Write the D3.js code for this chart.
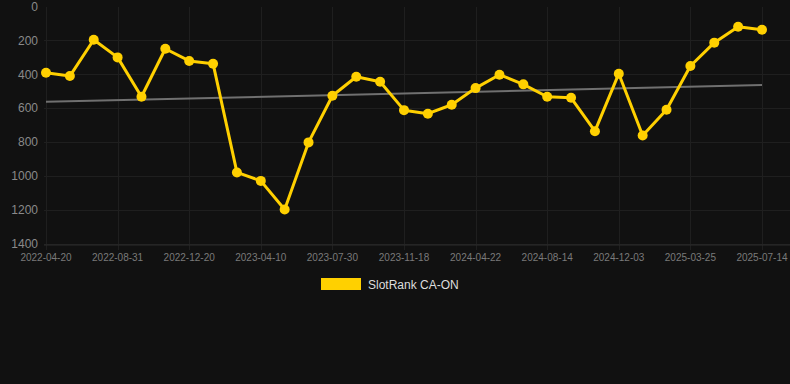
<!DOCTYPE html>
<html>
  <head>
    <script src="https://d3js.org/d3.v7.min.js"></script>
    <style>
      body { margin: 0; background: #111111; }
      .grid line { stroke: #1f1f1f; stroke-width: 1; shape-rendering: crispEdges; }
      .grid path { stroke-width: 0; }
      text { font-family: "Liberation Sans", Arial, sans-serif; }
    </style>
  </head>
  <body>
    <script>
      // categories (only every 3rd label is shown)
      var dates = [
        "2022-04-20", "2022-06-03", "2022-07-17", "2022-08-31", "2022-10-07", "2022-11-13",
        "2022-12-20", "2023-01-26", "2023-03-04", "2023-04-10", "2023-05-17", "2023-06-23",
        "2023-07-30", "2023-09-05", "2023-10-12", "2023-11-18", "2024-01-09", "2024-03-01",
        "2024-04-22", "2024-05-30", "2024-07-07", "2024-08-14", "2024-09-20", "2024-10-27",
        "2024-12-03", "2025-01-09", "2025-02-16", "2025-03-25", "2025-05-01", "2025-06-07",
        "2025-07-14"
      ];
      var ranks = [
        390, 410, 196, 300, 532, 249, 321, 337, 978, 1028, 1197, 801,
        526, 414, 444, 611, 632, 579, 481, 402, 459, 532, 538, 735,
        396, 760, 609, 351, 213, 119, 137
      ];
      // trend line, value at first and last date
      var trend = [562, 463];
      var yTicks = [0, 200, 400, 600, 800, 1000, 1200, 1400];
      var seriesName = "SlotRank CA-ON";

      var W = 790, H = 384;
      var margin = {top: 6.5, right: 28, bottom: 140, left: 46},
          width = W - margin.left - margin.right,
          height = H - margin.top - margin.bottom;

      var svg = d3.select("body").append("svg")
          .attr("width", W)
          .attr("height", H)
          .style("background", "#111111");

      var g = svg.append("g")
          .attr("transform", "translate(" + margin.left + "," + margin.top + ")");

      var x = d3.scalePoint().domain(dates).range([0, width]);
      var y = d3.scaleLinear().domain([0, 1400]).range([0, height]);

      // horizontal grid
      g.append("g")
          .attr("class", "grid")
          .call(d3.axisLeft(y).tickValues(yTicks.slice(1)).tickSize(-(width + 30)).tickFormat(""))
          .attr("transform", "translate(-2,0)");

      // vertical grid
      var shown = dates.filter(function(d, i) { return i % 3 == 0; });
      g.append("g")
          .attr("class", "grid")
          .call(d3.axisBottom(x).tickValues(shown).tickSize(height + 6).tickFormat(""));

      // bottom axis line
      g.append("line")
          .attr("x1", -2)
          .attr("x2", width + 28)
          .attr("y1", Math.round(y(1400)) + 0.5)
          .attr("y2", Math.round(y(1400)) + 0.5)
          .attr("stroke", "#2c2c2c");

      // y labels
      g.selectAll(".ylab")
          .data(yTicks)
        .enter().append("text")
          .attr("x", -8)
          .attr("y", function(d) { return y(d); })
          .attr("dy", "0.35em")
          .attr("text-anchor", "end")
          .attr("fill", "#8a8a8a")
          .style("font-size", "12px")
          .text(function(d) { return d; });

      // x labels
      g.selectAll(".xlab")
          .data(shown)
        .enter().append("text")
          .attr("x", function(d) { return x(d); })
          .attr("y", height + 17)
          .attr("text-anchor", "middle")
          .attr("fill", "#7a7a7a")
          .style("font-size", "10px")
          .text(function(d) { return d; });

      // trend line
      g.append("line")
          .attr("x1", x(dates[0]))
          .attr("y1", y(trend[0]))
          .attr("x2", x(dates[dates.length - 1]))
          .attr("y2", y(trend[1]))
          .attr("stroke", "#707070")
          .attr("stroke-width", 2);

      // series
      var line = d3.line()
          .x(function(d, i) { return x(dates[i]); })
          .y(function(d) { return y(d); });

      g.append("path")
          .datum(ranks)
          .attr("fill", "none")
          .attr("stroke", "#ffd000")
          .attr("stroke-width", 3)
          .attr("stroke-linejoin", "round")
          .attr("d", line);

      g.selectAll(".dot")
          .data(ranks)
        .enter().append("circle")
          .attr("cx", function(d, i) { return x(dates[i]); })
          .attr("cy", function(d) { return y(d); })
          .attr("r", 5)
          .attr("fill", "#ffd000");

      // legend
      svg.append("rect")
          .attr("x", 321)
          .attr("y", 278)
          .attr("width", 40)
          .attr("height", 12)
          .attr("fill", "#ffd000");
      svg.append("text")
          .attr("x", 368)
          .attr("y", 288.5)
          .attr("fill", "#dddddd")
          .style("font-size", "12px")
          .text(seriesName);
    </script>
  </body>
</html>
